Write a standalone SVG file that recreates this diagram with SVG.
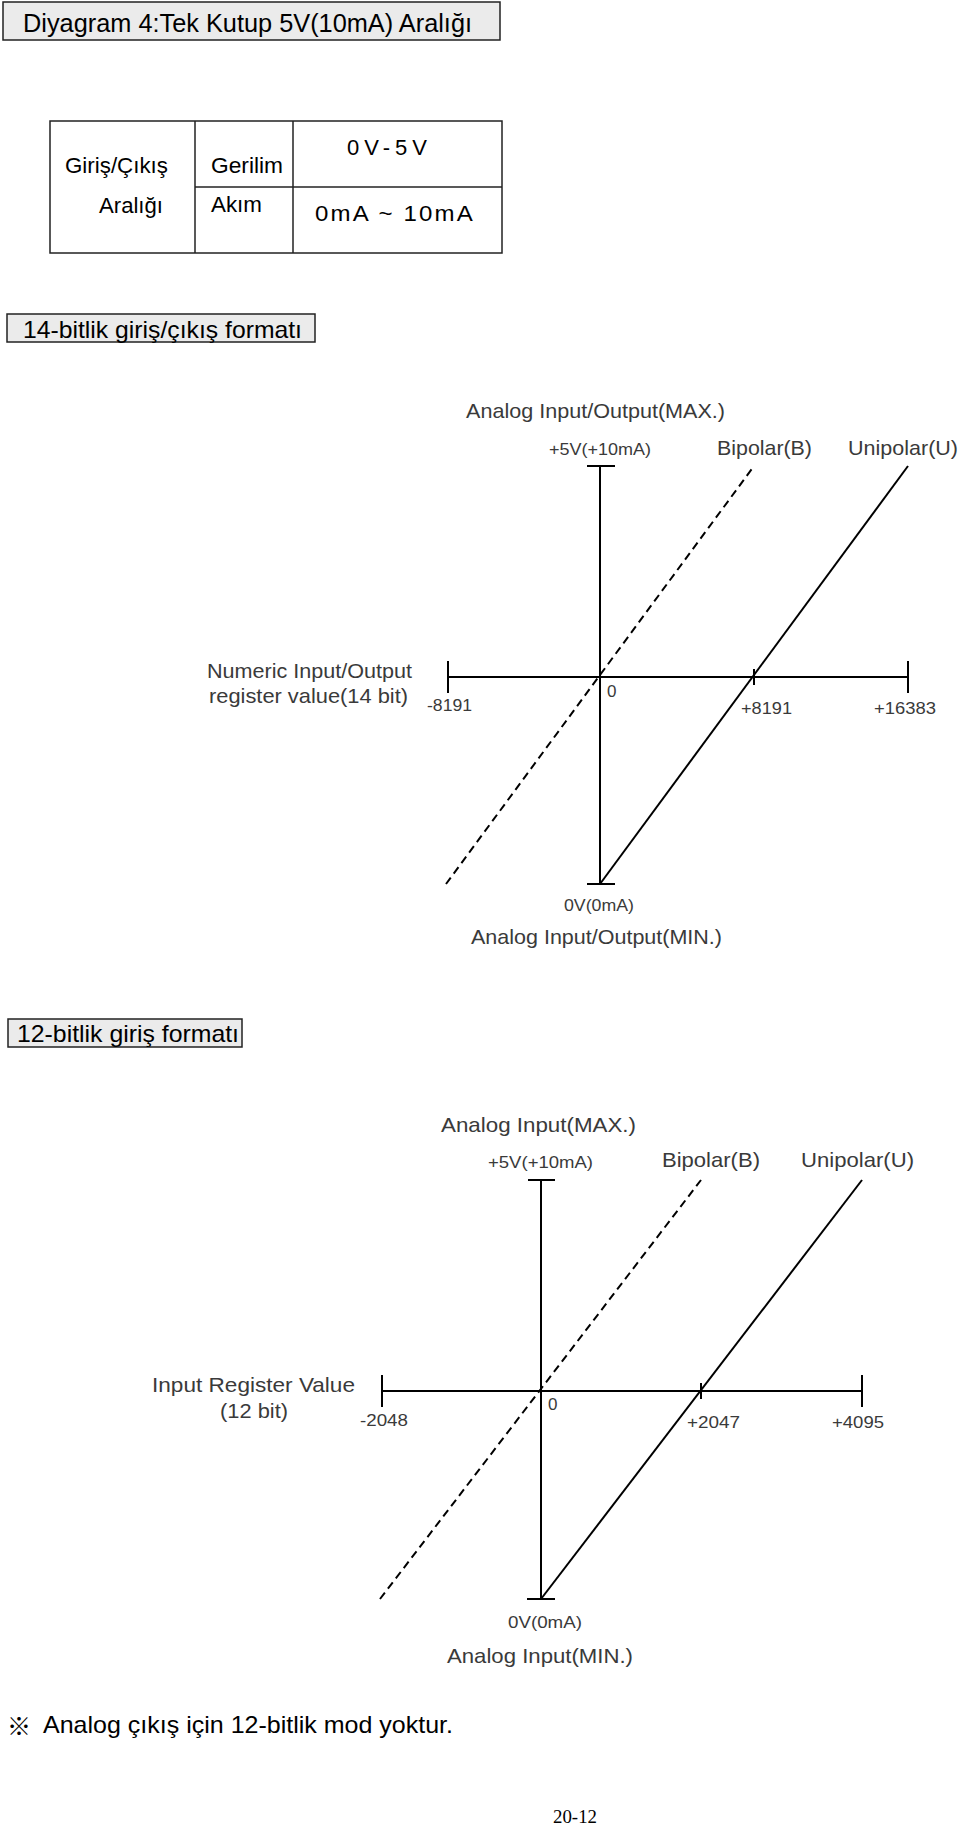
<svg xmlns="http://www.w3.org/2000/svg" width="960" height="1843" viewBox="0 0 960 1843">
<style>
.t{font-family:"Liberation Sans",Arial,sans-serif;fill:#000}
.g{font-family:"Liberation Sans",Arial,sans-serif;fill:#3a3a3a}
.box{fill:#ebebeb;stroke:#222;stroke-width:1.5}
.ax{stroke:#000;stroke-width:2;fill:none}
.uni{stroke:#000;stroke-width:2;fill:none}
.bi{stroke:#000;stroke-width:2;fill:none;stroke-dasharray:8 5}
.tb{stroke:#222;stroke-width:1.5;fill:none}
</style>
<rect width="960" height="1843" fill="#fff"/>
<g id="title">
<rect class="box" x="3" y="2" width="497" height="38"/>
<text class="t" x="23" y="32" font-size="25" textLength="449" lengthAdjust="spacingAndGlyphs">Diyagram 4:Tek Kutup 5V(10mA) Aralığı</text>
</g>
<g id="table">
<rect class="tb" x="50" y="121" width="452" height="132"/>
<line class="tb" x1="195" y1="121" x2="195" y2="253"/>
<line class="tb" x1="293" y1="121" x2="293" y2="253"/>
<line class="tb" x1="195" y1="187" x2="502" y2="187"/>
<text class="t" x="65" y="173" font-size="22" textLength="103" lengthAdjust="spacingAndGlyphs">Giriş/Çıkış</text>
<text class="t" x="99" y="213" font-size="22" textLength="64" lengthAdjust="spacingAndGlyphs">Aralığı</text>
<text class="t" x="211" y="173" font-size="22" textLength="72" lengthAdjust="spacingAndGlyphs">Gerilim</text>
<text class="t" x="211" y="212" font-size="22" textLength="51" lengthAdjust="spacingAndGlyphs">Akım</text>
<text class="t" x="347" y="155" font-size="22" textLength="80" lengthAdjust="spacing">0V-5V</text>
<text class="t" x="315" y="221" font-size="22" textLength="160" lengthAdjust="spacingAndGlyphs" letter-spacing="2">0mA ~ 10mA</text>
</g>
<g id="label14">
<rect class="box" x="7" y="314" width="308" height="28"/>
<text class="t" x="23" y="338" font-size="24" textLength="279" lengthAdjust="spacingAndGlyphs">14-bitlik giriş/çıkış formatı</text>
</g>
<g id="graph14">
<g id="graph14-axes">
<line class="ax" x1="600" y1="466" x2="600" y2="884"/>
<line class="ax" x1="587" y1="466" x2="615" y2="466"/>
<line class="ax" x1="587" y1="884" x2="615" y2="884"/>
<line class="ax" x1="448" y1="677" x2="908" y2="677"/>
<line class="ax" x1="448" y1="661" x2="448" y2="693"/>
<line class="ax" x1="908" y1="661" x2="908" y2="693"/>
<line class="ax" x1="754" y1="669" x2="754" y2="685"/>
</g>
<g id="graph14-lines">
<line class="uni" x1="600" y1="884" x2="908" y2="466"/>
<line class="bi" x1="446" y1="884" x2="754" y2="466"/>
</g>
<text class="g" x="466" y="418" font-size="21" textLength="259" lengthAdjust="spacingAndGlyphs">Analog Input/Output(MAX.)</text>
<text class="g" x="549" y="455" font-size="16" textLength="102" lengthAdjust="spacingAndGlyphs">+5V(+10mA)</text>
<text class="g" x="717" y="455" font-size="21" textLength="95" lengthAdjust="spacingAndGlyphs">Bipolar(B)</text>
<text class="g" x="848" y="455" font-size="21" textLength="110" lengthAdjust="spacingAndGlyphs">Unipolar(U)</text>
<text class="g" x="207" y="678" font-size="21" textLength="205" lengthAdjust="spacingAndGlyphs">Numeric Input/Output</text>
<text class="g" x="209" y="703" font-size="21" textLength="199" lengthAdjust="spacingAndGlyphs">register value(14 bit)</text>
<text class="g" x="427" y="711" font-size="17" textLength="45" lengthAdjust="spacingAndGlyphs">-8191</text>
<text class="g" x="607" y="697" font-size="17">0</text>
<text class="g" x="741" y="714" font-size="17" textLength="51" lengthAdjust="spacingAndGlyphs">+8191</text>
<text class="g" x="874" y="714" font-size="17" textLength="62" lengthAdjust="spacingAndGlyphs">+16383</text>
<text class="g" x="564" y="911" font-size="16" textLength="70" lengthAdjust="spacingAndGlyphs">0V(0mA)</text>
<text class="g" x="471" y="944" font-size="21" textLength="251" lengthAdjust="spacingAndGlyphs">Analog Input/Output(MIN.)</text>
</g>
<g id="label12">
<rect class="box" x="8" y="1019" width="234" height="28"/>
<text class="t" x="17" y="1042" font-size="24" textLength="222" lengthAdjust="spacingAndGlyphs">12-bitlik giriş formatı</text>
</g>
<g id="graph12">
<g id="graph12-axes">
<line class="ax" x1="541" y1="1180" x2="541" y2="1599"/>
<line class="ax" x1="528" y1="1180" x2="555" y2="1180"/>
<line class="ax" x1="527" y1="1599" x2="555" y2="1599"/>
<line class="ax" x1="382" y1="1391" x2="862" y2="1391"/>
<line class="ax" x1="382" y1="1375" x2="382" y2="1407"/>
<line class="ax" x1="862" y1="1375" x2="862" y2="1407"/>
<line class="ax" x1="701" y1="1383" x2="701" y2="1399"/>
</g>
<g id="graph12-lines">
<line class="uni" x1="541" y1="1599" x2="862" y2="1180"/>
<line class="bi" x1="380" y1="1599" x2="701" y2="1180"/>
</g>
<text class="g" x="441" y="1132" font-size="21" textLength="195" lengthAdjust="spacingAndGlyphs">Analog Input(MAX.)</text>
<text class="g" x="488" y="1168" font-size="16" textLength="105" lengthAdjust="spacingAndGlyphs">+5V(+10mA)</text>
<text class="g" x="662" y="1167" font-size="21" textLength="98" lengthAdjust="spacingAndGlyphs">Bipolar(B)</text>
<text class="g" x="801" y="1167" font-size="21" textLength="113" lengthAdjust="spacingAndGlyphs">Unipolar(U)</text>
<text class="g" x="152" y="1392" font-size="21" textLength="203" lengthAdjust="spacingAndGlyphs">Input Register Value</text>
<text class="g" x="220" y="1418" font-size="21" textLength="68" lengthAdjust="spacingAndGlyphs">(12 bit)</text>
<text class="g" x="360" y="1426" font-size="17" textLength="48" lengthAdjust="spacingAndGlyphs">-2048</text>
<text class="g" x="548" y="1410" font-size="17">0</text>
<text class="g" x="687" y="1428" font-size="17" textLength="53" lengthAdjust="spacingAndGlyphs">+2047</text>
<text class="g" x="832" y="1428" font-size="17" textLength="52" lengthAdjust="spacingAndGlyphs">+4095</text>
<text class="g" x="508" y="1628" font-size="16" textLength="74" lengthAdjust="spacingAndGlyphs">0V(0mA)</text>
<text class="g" x="447" y="1663" font-size="21" textLength="186" lengthAdjust="spacingAndGlyphs">Analog Input(MIN.)</text>
</g>
<g id="footnote">
<text x="7" y="1735" font-size="24" style="font-family:'Noto Sans CJK KR','DejaVu Sans',sans-serif">※</text>
<text class="t" x="43" y="1733" font-size="24" textLength="410" lengthAdjust="spacingAndGlyphs">Analog çıkış için 12-bitlik mod yoktur.</text>
</g>
<g id="pagenum">
<text x="553" y="1823" font-size="19" font-family="'Liberation Serif','Times New Roman',serif" textLength="44" lengthAdjust="spacingAndGlyphs">20-12</text>
</g>
</svg>
